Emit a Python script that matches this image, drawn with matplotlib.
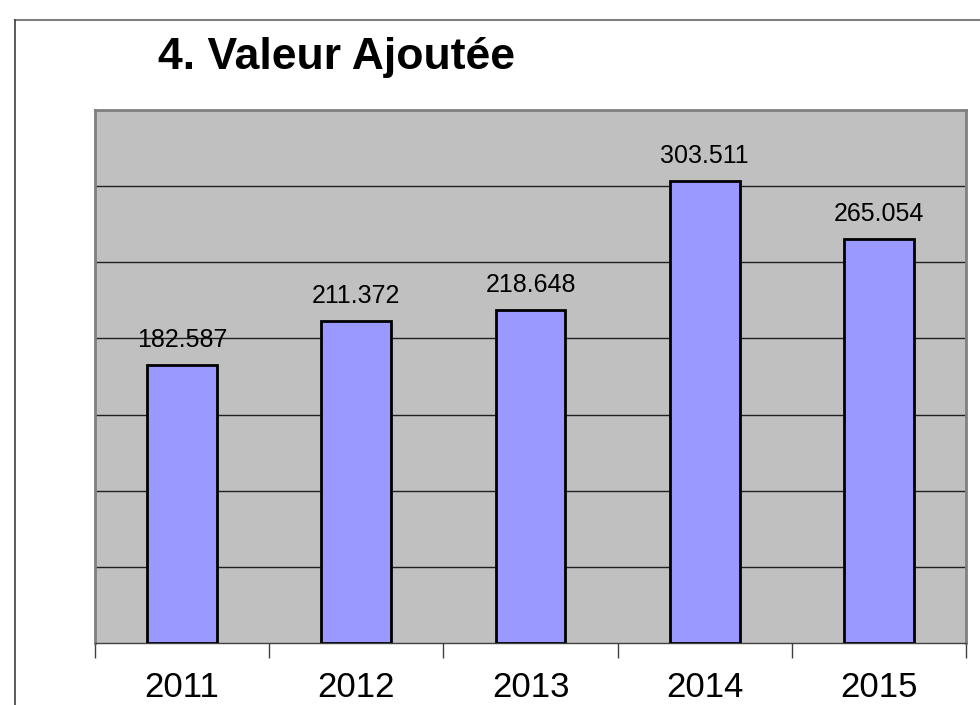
import matplotlib
matplotlib.use("Agg")
import matplotlib.pyplot as plt
from matplotlib.lines import Line2D

years = ["2011", "2012", "2013", "2014", "2015"]
values = [182.587, 211.372, 218.648, 303.511, 265.054]
labels = ["182.587", "211.372", "218.648", "303.511", "265.054"]

plt.rcParams['font.family'] = ['Liberation Sans', 'DejaVu Sans']

W, H = 980, 705
fig = plt.figure(figsize=(W/100, H/100), dpi=100, facecolor='white')

# outer frame
fig.add_artist(Line2D([15/W, 1.0], [1-20/H, 1-20/H], color='#808080', lw=1.5, transform=fig.transFigure))
fig.add_artist(Line2D([15/W, 15/W], [0, 1-20/H], color='#404040', lw=1.2, transform=fig.transFigure))

fig.text(158/W, 1-57/H, "4. Valeur Ajoutée", fontsize=32, fontweight='bold', ha='left', va='center')

ax = fig.add_axes([95/W, (H-643)/H, 871/W, 533/H])
ax.set_facecolor('#C0C0C0')
x = list(range(len(years)))
ax.bar(x, values, width=0.4, color='#9999FF', edgecolor='black', linewidth=2, zorder=3)
for xi, v, lab in zip(x, values, labels):
    ax.text(xi, v + 8.5, lab, ha='center', va='bottom', fontsize=18, zorder=4)

ax.set_xlim(-0.5, len(years) - 0.5)
ax.set_ylim(0, 350)
ax.set_yticks([50, 100, 150, 200, 250, 300])
ax.yaxis.grid(True, color='#202020', lw=1)
ax.set_axisbelow(True)
ax.tick_params(axis='y', length=0, labelleft=False)

ax.set_xticks([i - 0.5 for i in range(len(years) + 1)], minor=False)
ax.set_xticklabels([])
ax.set_xticks(x, minor=True)
ax.set_xticklabels(years, minor=True, fontsize=25)
ax.tick_params(axis='x', which='major', length=11, width=1, color='#404040', direction='out')
ax.tick_params(axis='x', which='minor', length=0, pad=20)

for side in ['left', 'top', 'right']:
    ax.spines[side].set_color('#808080')
    ax.spines[side].set_linewidth(2)
ax.spines['bottom'].set_color('#404040')
ax.spines['bottom'].set_linewidth(1)

fig.savefig("out.png", dpi=100, facecolor='white')
